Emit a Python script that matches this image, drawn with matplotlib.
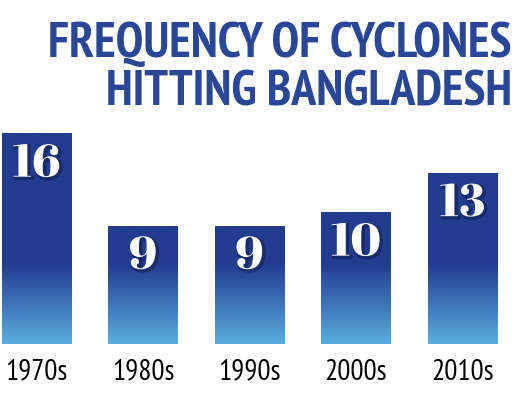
import numpy as np
import matplotlib
matplotlib.use("Agg")
import matplotlib.pyplot as plt
import matplotlib.patheffects as pe
from matplotlib.colors import LinearSegmentedColormap

# data
decades = ["1970s", "1980s", "1990s", "2000s", "2010s"]
cyclones = [16, 9, 9, 10, 13]

title_lines = ["FREQUENCY OF CYCLONES", "HITTING BANGLADESH"]

dark_blue = "#223c8e"
light_blue = "#5badE0"
title_blue = "#2a4797"
narrow = ["PT Sans Narrow", "Fira Sans Extra Condensed", "DejaVu Sans"]
didone = ["Abril Fatface", "Playfair Display", "DejaVu Serif"]

fig = plt.figure(figsize=(5.19, 3.95), dpi=100)
fig.patch.set_facecolor("white")

# axes spans full width, bars ~70px wide, ~106.5px apart
ax = fig.add_axes([0, 51 / 395, 1, 250 / 395])
x = np.arange(len(decades))
ax.set_xlim(-0.343, 4.53)
ax.set_ylim(0, 19.0)
ax.axis("off")

bars = ax.bar(x, cyclones, width=0.655, color="none", edgecolor="none")

# vertical gradient: light at the base, dark from about 6 units up
cmap = LinearSegmentedColormap.from_list(
    "cyc", [(0, light_blue), (0.32, dark_blue), (1, dark_blue)])
grad = np.linspace(0, 1, 256).reshape(-1, 1)
for b in bars:
    im = ax.imshow(grad, cmap=cmap, origin="lower", aspect="auto",
                   extent=[x.min() - 1, x.max() + 1, 0, 19.0], zorder=1)
    im.set_clip_path(b)

for xi, v in zip(x, cyclones):
    t = ax.text(xi, v - 0.7, str(v), ha="center", va="top", color="white",
                fontsize=33, family=didone, zorder=3)
    t.set_path_effects([pe.SimpleLineShadow(offset=(1.2, -1.2), shadow_color="#0a1540",
                                            alpha=0.45, linewidth=2.5),
                        pe.Normal()])

for xi, lab in zip(x, decades):
    ax.text(xi, -2.15, lab, ha="center", va="center", fontsize=21,
            family=narrow, color="black")

fig.text(0.986, 0.856, title_lines[0], ha="right", va="baseline", color=title_blue,
         fontsize=36, fontweight="bold", family=narrow)
fig.text(0.986, 0.734, title_lines[1], ha="right", va="baseline", color=title_blue,
         fontsize=36, fontweight="bold", family=narrow)

fig.savefig("out.png", dpi=100, facecolor="white")
